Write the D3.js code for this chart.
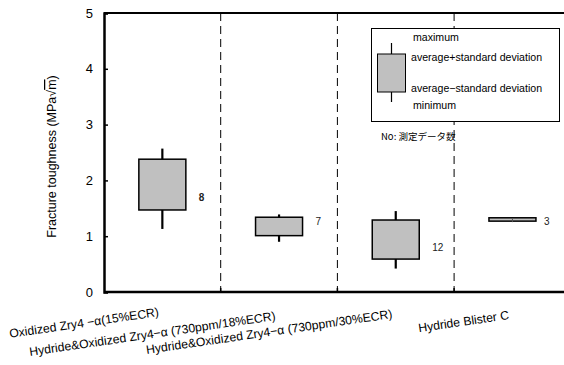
<!DOCTYPE html>
<html>
<head>
<meta charset="utf-8">
<script src="https://cdn.jsdelivr.net/npm/d3@7"></script>
<style>
  body { margin: 0; background: #fff; }
  svg { display: block; }
</style>
</head>
<body>
<div id="chart"></div>
<script>
// --- data
const categories = [
  'Oxidized Zry4 −α(15%ECR)',
  'Hydride&Oxidized Zry4−α (730ppm/18%ECR)',
  'Hydride&Oxidized Zry4−α (730ppm/30%ECR)',
  'Hydride Blister C'
];
const maxima = [2.57, 1.39, 1.45, 1.33];
const upperSd = [2.38, 1.34, 1.29, 1.33];
const lowerSd = [1.47, 1.01, 0.59, 1.27];
const minima = [1.13, 0.90, 0.42, 1.28];
const counts = [8, 7, 12, 3];
const countLabelAt = [1.70, 1.26, 0.79, 1.26];
const yTicks = [0, 1, 2, 3, 4, 5];
const legendItems = ['maximum', 'average+standard deviation', 'average−standard deviation', 'minimum'];

// --- setup dimensions
const width = 564;
const height = 365;
const margin = { top: 13, left: 104, bottom: 73 };
const bandWidth = 116.7;

const svg = d3.select('#chart')
  .append('svg')
  .attr('width', width)
  .attr('height', height);

// --- scales
const x = d3.scaleBand()
  .domain(categories)
  .range([margin.left, margin.left + bandWidth * categories.length])
  .padding(0);

const y = d3.scaleLinear()
  .domain([0, 5])
  .range([height - margin.bottom, margin.top]);

const font = '"Liberation Sans", Arial, sans-serif';

// --- category separators (dashed)
svg.append('g')
  .selectAll('line')
  .data(categories.slice(1))
  .join('line')
    .attr('x1', d => x(d))
    .attr('x2', d => x(d))
    .attr('y1', y(5))
    .attr('y2', y(0))
    .attr('stroke', '#000')
    .attr('stroke-width', 1)
    .attr('stroke-dasharray', '8 5');

// --- frame
svg.append('line')
  .attr('x1', margin.left).attr('x2', width)
  .attr('y1', y(5)).attr('y2', y(5))
  .attr('stroke', '#000').attr('stroke-width', 2);

svg.append('line')
  .attr('x1', margin.left).attr('x2', width)
  .attr('y1', y(0)).attr('y2', y(0))
  .attr('stroke', '#000').attr('stroke-width', 2.5);

// --- y axis
const yAxis = svg.append('g')
  .attr('transform', `translate(${margin.left},0)`)
  .call(d3.axisLeft(y).tickValues(yTicks).tickSize(-4).tickPadding(11).tickFormat(d3.format('d')));

yAxis.select('.domain')
  .attr('stroke-width', 2.5);
yAxis.selectAll('.tick line').attr('stroke-width', 1.5);
yAxis.selectAll('.tick text')
  .attr('font-family', font)
  .attr('font-size', 13)
  .attr('fill', '#000');

// bottom ticks at the separators
svg.append('g')
  .selectAll('line')
  .data(categories.slice(1))
  .join('line')
    .attr('x1', d => x(d)).attr('x2', d => x(d))
    .attr('y1', y(0)).attr('y2', y(0) - 4)
    .attr('stroke', '#000').attr('stroke-width', 1.5);

// --- y title
const yTitle = svg.append('text')
  .attr('transform', `translate(56 ${(y(0) + y(5)) / 2 + 4}) rotate(-90)`)
  .attr('text-anchor', 'middle')
  .attr('font-family', font)
  .attr('font-size', 12.5)
  .attr('fill', '#000');
yTitle.append('tspan').text('Fracture toughness (MPa√');
yTitle.append('tspan').attr('text-decoration', 'overline').text('m');
yTitle.append('tspan').text(')');

// --- boxes
const boxW = 47;
const boxes = svg.append('g');
categories.forEach((c, i) => {
  const cx = x(c) + x.bandwidth() / 2;
  boxes.append('line')
    .attr('x1', cx).attr('x2', cx)
    .attr('y1', y(maxima[i])).attr('y2', y(minima[i]))
    .attr('stroke', '#000').attr('stroke-width', i === 3 ? 1 : 2.2);
  boxes.append('rect')
    .attr('x', cx - boxW / 2)
    .attr('y', y(upperSd[i]))
    .attr('width', boxW)
    .attr('height', Math.max(y(lowerSd[i]) - y(upperSd[i]), 3))
    .attr('fill', '#c0c0c0')
    .attr('stroke', '#000')
    .attr('stroke-width', 1.5);
  if (i === 3) {
    boxes.append('line')
      .attr('x1', cx).attr('x2', cx)
      .attr('y1', y(upperSd[i]) + 1).attr('y2', y(lowerSd[i]) + 1)
      .attr('stroke', '#555').attr('stroke-width', 1);
  }
  boxes.append('text')
    .attr('x', cx + boxW / 2 + (i === 3 ? 8 : 13))
    .attr('y', y(countLabelAt[i]))
    .attr('dy', '0.35em')
    .attr('font-family', font)
    .attr('font-size', 10)
    .attr('font-weight', i === 0 ? 'bold' : 'normal')
    .attr('fill', '#222')
    .text(counts[i]);
});

// --- category labels
svg.append('g')
  .selectAll('text')
  .data(categories)
  .join('text')
    .attr('transform', (d, i) => `translate(${x(d) + x.bandwidth() / 2 - 3} ${[316, 320, 318, 319][i]}) rotate(-8.3)`)
    .attr('text-anchor', 'end')
    .attr('font-family', font)
    .attr('font-size', 12.2)
    .attr('fill', '#000')
    .text(d => d);

// --- legend
const legend = svg.append('g');
legend.append('rect')
  .attr('x', 371.5).attr('y', 28.5)
  .attr('width', 188).attr('height', 93)
  .attr('fill', '#fff')
  .attr('stroke', '#000')
  .attr('stroke-width', 1);
legend.append('line')
  .attr('x1', 391.5).attr('x2', 391.5)
  .attr('y1', 43).attr('y2', 102)
  .attr('stroke', '#000').attr('stroke-width', 1.2);
legend.append('rect')
  .attr('x', 377.5).attr('y', 54)
  .attr('width', 28).attr('height', 38)
  .attr('fill', '#c0c0c0')
  .attr('stroke', '#000')
  .attr('stroke-width', 1);
legend.selectAll('.legend-text')
  .data(legendItems)
  .join('text')
    .attr('class', 'legend-text')
    .attr('x', (d, i) => (i === 0 || i === 3) ? 413 : 411)
    .attr('y', (d, i) => [37, 57.5, 88.5, 105][i])
    .attr('dy', '0.35em')
    .attr('font-family', font)
    .attr('font-size', 10.6)
    .attr('fill', '#000')
    .text(d => d);

svg.append('text')
  .attr('x', 381)
  .attr('y', 137)
  .attr('dy', '0.35em')
  .attr('font-family', '"Noto Sans CJK JP", sans-serif')
  .attr('font-size', 9.5)
  .attr('fill', '#000')
  .text('No: 測定データ数');
</script>
</body>
</html>
